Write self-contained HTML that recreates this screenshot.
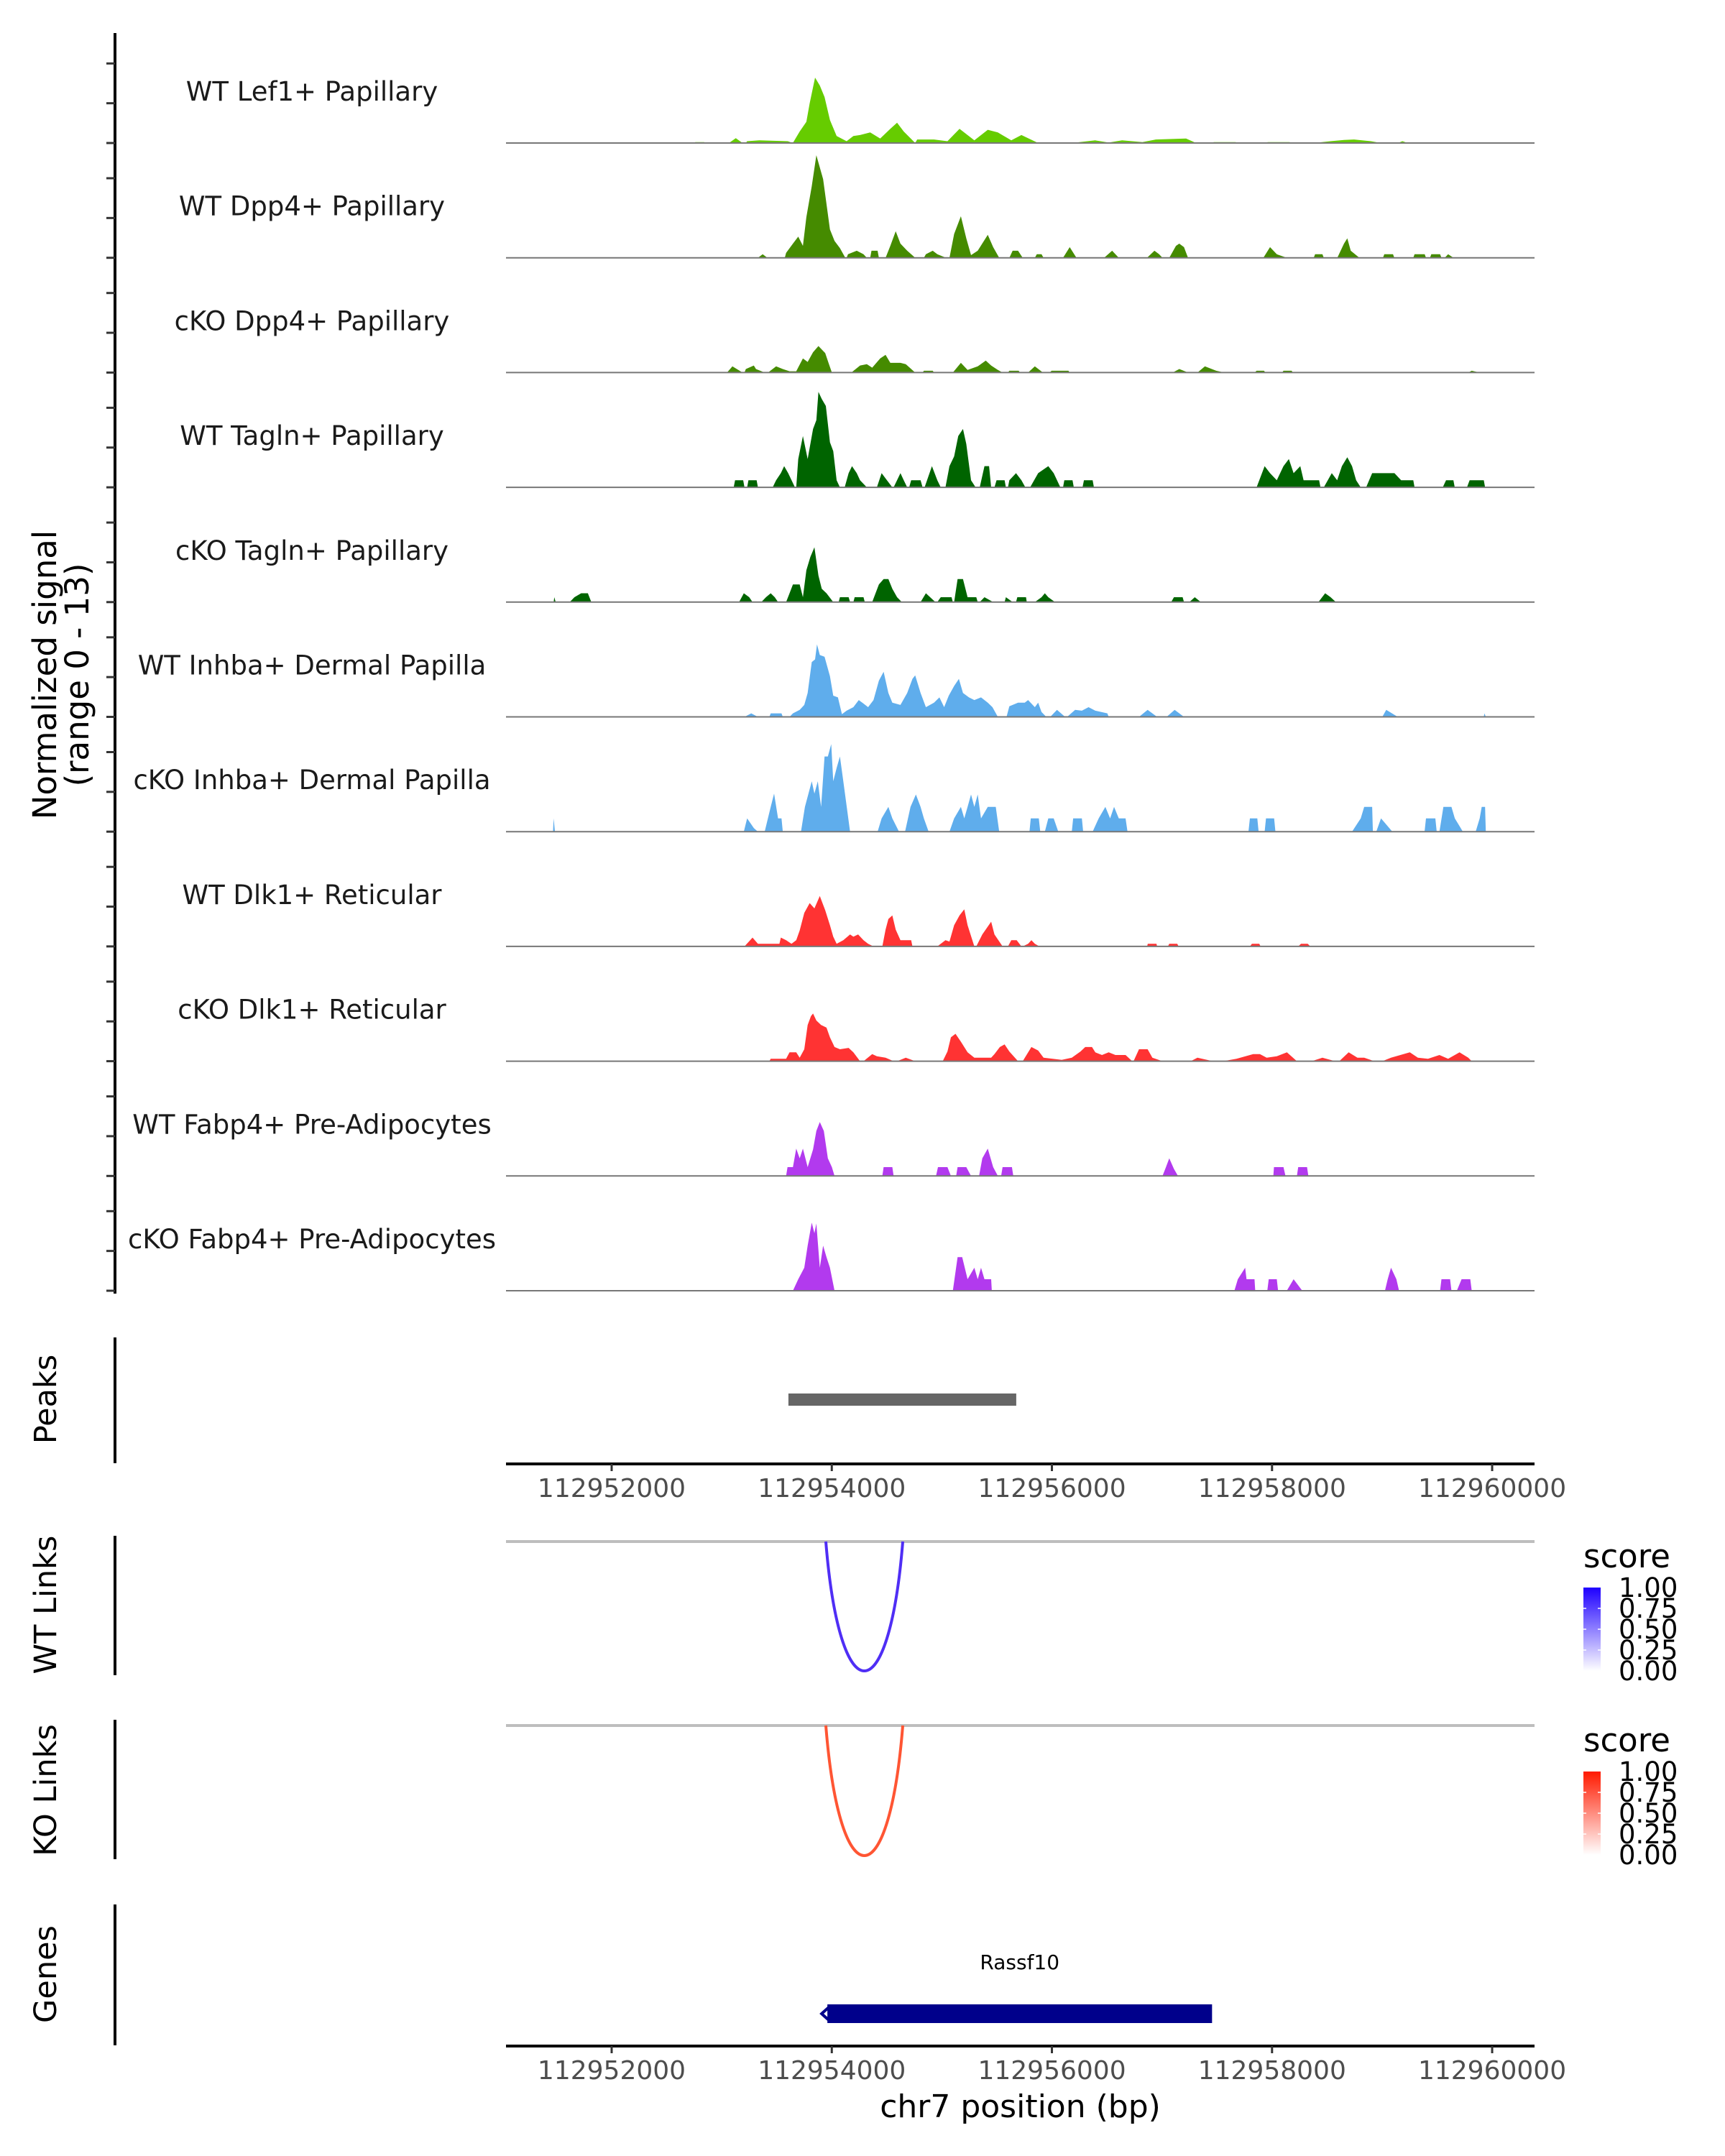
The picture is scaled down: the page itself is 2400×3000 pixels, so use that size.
<!DOCTYPE html>
<html><head><meta charset="utf-8"><style>
html,body{margin:0;padding:0;background:#fff;}
svg{display:block;font-family:"DejaVu Sans","Liberation Sans",sans-serif;}
</style></head>
<body>
<svg id="chart" width="2400" height="3000" viewBox="0 0 2400 3000" xmlns="http://www.w3.org/2000/svg">
<rect width="2400" height="3000" fill="#fff"/>
<g id="tracks"></g>
<g id="lower"></g>
<text transform="translate(78,939) rotate(-90)" text-anchor="middle" font-size="45" fill="#000">Normalized signal</text>
<text transform="translate(123,939) rotate(-90)" text-anchor="middle" font-size="45" fill="#000">(range 0 - 13)</text>
</svg>
<script>
// genomic positions are offsets from 112950000
const regionOrigin = 112950000;
const regionStart = 1040, regionEnd = 10385;
const trackLabels = ["WT Lef1+ Papillary","WT Dpp4+ Papillary","cKO Dpp4+ Papillary","WT Tagln+ Papillary","cKO Tagln+ Papillary","WT Inhba+ Dermal Papilla","cKO Inhba+ Dermal Papilla","WT Dlk1+ Reticular","cKO Dlk1+ Reticular","WT Fabp4+ Pre-Adipocytes","cKO Fabp4+ Pre-Adipocytes"];
const trackColors = ["#66cc00","#458b00","#458b00","#006400","#006400","#5fadec","#5fadec","#ff3333","#ff3333","#b23aee","#b23aee"];
const signalTicks = [0,4.5,9];
const xTickValues = [112952000,112954000,112956000,112958000,112960000];
const legendTicks = ["1.00","0.75","0.50","0.25","0.00"];
const peakRegions = [[3606,5676]];
const geneName = "Rassf10";
const geneSpan = [3960,7455];
const wtLinks = [[3946,4645,1.0]];
const koLinks = [[3946,4645,0.9]];

const lef1WT=[[2748,0],[2760,0.1],[2840,0.1],[2853,0],[3066,0],[3128,0.55],[3189,0],[3219,0],[3230,0.2],[3341,0.3],[3600,0.2],[3646,0],[3708,1.3],[3769,2.4],[3799,4.5],[3848,7.4],[3891,6.5],[3934,5.2],[3983,2.6],[4044,0.8],[4135,0.2],[4196,0.8],[4257,0.9],[4349,1.2],[4440,0.5],[4532,1.6],[4593,2.3],[4654,1.3],[4758,0],[4776,0.4],[4929,0.4],[5051,0.2],[5161,1.6],[5295,0.3],[5417,1.5],[5509,1.2],[5631,0.3],[5723,0.9],[5875,0],[6180,0],[6394,0.3],[6516,0.05],[6638,0.3],[6822,0.1],[6944,0.4],[7219,0.5],[7310,0],[7463,0],[7470,0.1],[7670,0.1],[7677,0],[7951,0],[7960,0.1],[8160,0.1],[8165,0],[8379,0],[8531,0.2],[8654,0.35],[8745,0.4],[8898,0.2],[8990,0],[9142,0],[9185,0.2],[9234,0]];
const dpp4WT=[[3329,0],[3372,0.4],[3415,0],[3573,0],[3585,0.55],[3647,1.6],[3695,2.4],[3738,1.35],[3769,4.6],[3818,8.1],[3860,11.6],[3921,8.9],[3983,3.2],[4025,1.9],[4074,1.1],[4123,0],[4135,0],[4147,0.4],[4227,0.8],[4288,0.4],[4318,0],[4349,0],[4361,0.8],[4416,0.8],[4428,0],[4489,0],[4532,1.35],[4581,3],[4624,1.6],[4685,0.8],[4758,0],[4837,0],[4855,0.4],[4917,0.8],[4959,0.4],[5039,0],[5069,0],[5112,2.7],[5173,4.7],[5222,2.2],[5265,0.3],[5326,0.8],[5417,2.6],[5466,1.2],[5521,0],[5613,0],[5643,0.8],[5692,0.8],[5735,0],[5845,0],[5863,0.4],[5906,0.4],[5924,0],[6101,0],[6162,1.2],[6223,0],[6474,0],[6547,0.8],[6608,0],[6864,0],[6932,0.8],[6974,0.4],[7005,0],[7066,0],[7127,1.35],[7157,1.6],[7200,1.2],[7237,0],[7921,0],[7982,1.2],[8043,0.4],[8135,0],[8379,0],[8391,0.4],[8458,0.4],[8470,0],[8593,0],[8654,1.6],[8684,2.2],[8715,0.8],[8794,0],[9008,0],[9020,0.4],[9099,0.4],[9111,0],[9283,0],[9295,0.4],[9387,0.4],[9399,0],[9435,0],[9447,0.4],[9527,0.4],[9539,0],[9569,0],[9600,0.4],[9649,0]];
const dpp4KO=[[3048,0],[3097,0.7],[3189,0],[3207,0],[3219,0.4],[3292,0.8],[3311,0.4],[3390,0],[3421,0],[3494,0.7],[3555,0.4],[3616,0.15],[3677,0.15],[3738,1.6],[3781,1.2],[3830,2.3],[3879,3.0],[3940,2.2],[3970,1.1],[4001,0],[4178,0],[4257,0.8],[4318,0.95],[4367,0.55],[4440,1.6],[4489,2.0],[4532,1.1],[4624,1.1],[4672,0.95],[4758,0],[4825,0],[4837,0.2],[4917,0.2],[4929,0],[5100,0],[5173,1.1],[5234,0.3],[5326,0.7],[5399,1.35],[5448,0.8],[5509,0.3],[5552,0],[5601,0],[5613,0.2],[5698,0.2],[5710,0],[5784,0],[5845,0.7],[5918,0],[5979,0],[5997,0.2],[6150,0.2],[6162,0],[7097,0],[7158,0.4],[7237,0],[7323,0],[7390,0.7],[7493,0.2],[7567,0],[7842,0],[7860,0.2],[7927,0.2],[7940,0],[8092,0],[8104,0.2],[8178,0.2],[8190,0],[9783,0],[9814,0.2],[9887,0]];
const taglnWT=[[3109,0],[3121,0.8],[3195,0.8],[3207,0],[3231,0],[3243,0.8],[3317,0.8],[3329,0],[3463,0],[3494,0.8],[3537,1.6],[3567,2.4],[3604,1.6],[3665,0],[3677,0],[3695,3.2],[3738,5.8],[3781,3.2],[3830,6.6],[3860,7.6],[3879,10.8],[3909,10],[3946,9.2],[3983,5.1],[4013,4.1],[4044,0.8],[4074,0],[4117,0],[4153,1.6],[4184,2.4],[4227,1.6],[4257,0.8],[4318,0],[4410,0],[4453,1.6],[4501,0.8],[4550,0],[4562,0],[4624,1.6],[4654,0.8],[4685,0],[4703,0],[4721,0.8],[4807,0.8],[4825,0],[4843,0],[4910,2.4],[4959,0.8],[4990,0],[5033,0],[5069,2.4],[5112,3.5],[5149,5.8],[5192,6.6],[5222,4.9],[5265,0.8],[5307,0],[5344,0],[5387,2.4],[5429,2.4],[5448,0],[5478,0],[5497,0.8],[5570,0.8],[5582,0],[5601,0],[5613,0.8],[5674,1.6],[5723,0.8],[5759,0],[5802,0],[5875,1.6],[5967,2.4],[6016,1.6],[6077,0],[6101,0],[6113,0.8],[6187,0.8],[6199,0],[6278,0],[6291,0.8],[6370,0.8],[6382,0],[7860,0],[7933,2.4],[7982,1.6],[8043,0.8],[8104,2.4],[8153,3.2],[8196,1.6],[8257,2.4],[8287,0.8],[8428,0.8],[8440,0],[8470,0],[8543,1.6],[8592,0.8],[8635,2.4],[8684,3.4],[8727,2.4],[8764,0.8],[8806,0],[8855,0],[8910,1.6],[8990,1.6],[9020,1.6],[9112,1.6],[9173,0.8],[9283,0.8],[9295,0],[9551,0],[9581,0.8],[9648,0.8],[9660,0],[9771,0],[9795,0.8],[9924,0.8],[9936,0]];
const taglnKO=[[1473,0],[1479,0.55],[1491,0],[1619,0],[1662,0.55],[1723,1.0],[1784,1.0],[1815,0],[3158,0],[3201,1.0],[3250,0.55],[3280,0],[3360,0],[3402,0.55],[3445,1.0],[3482,0.55],[3512,0],[3585,0],[3616,1.0],[3647,2.0],[3708,2.0],[3738,0.55],[3769,3.6],[3805,5.1],[3842,6.2],[3879,3.0],[3909,1.5],[3952,1.0],[4013,0],[4062,0],[4074,0.55],[4153,0.55],[4166,0],[4196,0],[4208,0.55],[4288,0.55],[4300,0],[4367,0],[4428,2.0],[4471,2.6],[4514,2.6],[4550,1.5],[4593,0.55],[4636,0],[4807,0],[4855,1.0],[4941,0],[4959,0],[4990,0.55],[5088,0.55],[5100,0],[5112,0],[5143,2.6],[5192,2.6],[5234,0.55],[5313,0.55],[5326,0],[5344,0],[5387,0.55],[5466,0],[5570,0],[5582,0.55],[5643,0],[5674,0],[5686,0.55],[5765,0.55],[5771,0],[5845,0],[5906,0.55],[5936,1.0],[5967,0.55],[6028,0],[7084,0],[7109,0.55],[7188,0.55],[7200,0],[7249,0],[7298,0.55],[7353,0],[8421,0],[8483,1.0],[8532,0.55],[8580,0]];
const inhbaWT=[[3207,0],[3268,0.4],[3329,0],[3433,0],[3445,0.4],[3543,0.4],[3555,0],[3616,0],[3647,0.4],[3708,0.8],[3750,1.35],[3781,2.7],[3818,6.2],[3848,6.5],[3866,8.2],[3891,7.0],[3934,6.8],[3983,4.6],[4013,2.4],[4056,2.2],[4092,0.3],[4135,0.7],[4196,1.1],[4245,1.9],[4288,1.5],[4330,1.1],[4379,1.9],[4428,4.1],[4471,5.1],[4514,2.7],[4550,1.6],[4624,1.35],[4685,2.7],[4733,4.3],[4758,4.7],[4807,2.7],[4855,1.1],[4929,1.6],[4978,2.2],[5021,1.1],[5063,2.4],[5112,3.5],[5155,4.3],[5192,2.7],[5246,2.2],[5295,1.9],[5356,2.2],[5417,1.6],[5460,1.1],[5509,0],[5588,0],[5613,1.2],[5692,1.6],[5753,1.6],[5784,1.9],[5845,1.1],[5875,1.6],[5906,0.55],[5949,0],[5985,0],[6046,0.8],[6120,0],[6138,0],[6211,0.8],[6272,0.7],[6333,1.1],[6394,0.7],[6504,0.4],[6516,0],[6791,0],[6870,0.8],[6956,0],[7042,0],[7115,0.8],[7200,0],[9002,0],[9038,0.8],[9142,0],[9924,0],[9930,0.4],[9942,0]];
const inhbaKO=[[1467,0],[1473,1.5],[1485,0],[3201,0],[3231,1.5],[3292,0.4],[3329,0],[3390,0],[3445,2.8],[3476,4.3],[3512,1.5],[3543,1.5],[3555,0],[3720,0],[3756,2.8],[3818,5.7],[3842,4.3],[3873,5.7],[3903,2.8],[3934,8.5],[3964,8.5],[3995,9.9],[4013,5.7],[4044,7.2],[4074,8.5],[4105,5.7],[4166,0],[4416,0],[4453,1.5],[4514,2.8],[4550,1.5],[4611,0],[4666,0],[4715,2.8],[4764,4.2],[4807,2.8],[4837,1.5],[4880,0],[5069,0],[5112,1.5],[5173,2.8],[5204,1.5],[5234,2.8],[5265,4.2],[5295,2.8],[5326,4.2],[5356,1.5],[5417,2.8],[5490,2.8],[5521,0],[5796,0],[5808,1.5],[5881,1.5],[5894,0],[5936,0],[5967,1.5],[6016,1.5],[6058,0],[6181,0],[6193,1.5],[6272,1.5],[6284,0],[6370,0],[6425,1.5],[6486,2.8],[6529,1.5],[6565,2.8],[6608,1.5],[6669,1.5],[6687,0],[7786,0],[7799,1.5],[7866,1.5],[7878,0],[7933,0],[7945,1.5],[8019,1.5],[8031,0],[8727,0],[8806,1.5],[8837,2.8],[8910,2.8],[8916,0],[8947,0],[8990,1.5],[9093,0],[9386,0],[9399,1.5],[9484,1.5],[9496,0],[9521,0],[9557,2.8],[9630,2.8],[9661,1.5],[9734,0],[9850,0],[9887,1.5],[9905,2.8],[9936,2.8],[9942,0]];
const dlk1WT=[[3207,0],[3280,1.0],[3329,0.3],[3524,0.3],[3537,1.0],[3585,0.7],[3634,0.3],[3677,0.7],[3708,1.8],[3750,3.8],[3799,4.9],[3842,4.3],[3891,5.7],[3940,4.1],[3983,2.4],[4013,1.1],[4044,0.3],[4105,0.7],[4166,1.35],[4196,1.1],[4239,1.35],[4288,0.7],[4330,0.3],[4379,0],[4459,0],[4489,1.9],[4514,3.1],[4550,3.5],[4581,1.9],[4624,0.7],[4721,0.7],[4733,0],[4959,0],[4990,0.3],[5033,0.7],[5069,0.55],[5112,2.4],[5161,3.5],[5204,4.2],[5234,2.4],[5295,0],[5313,0],[5368,1.35],[5448,2.8],[5478,1.35],[5552,0],[5601,0],[5631,0.7],[5680,0.7],[5723,0],[5735,0],[5784,0.3],[5814,0.7],[5845,0.3],[5887,0],[6865,0],[6871,0.3],[6950,0.3],[6956,0],[7054,0],[7066,0.3],[7139,0.3],[7151,0],[7799,0],[7817,0.3],[7884,0.3],[7896,0],[8238,0],[8263,0.3],[8324,0.3],[8348,0]];
const dlk1KO=[[3433,0],[3445,0.27],[3585,0.27],[3616,1.0],[3677,1.0],[3708,0.4],[3750,1.35],[3781,4.1],[3811,5.1],[3830,5.4],[3860,4.6],[3903,4.1],[3952,3.8],[3983,2.7],[4025,1.6],[4074,1.35],[4153,1.5],[4196,1.0],[4257,0],[4288,0],[4367,0.8],[4410,0.55],[4489,0.4],[4562,0],[4593,0],[4672,0.4],[4758,0],[5008,0],[5051,1.1],[5082,2.7],[5124,3.1],[5173,2.2],[5234,1.0],[5295,0.4],[5448,0.4],[5478,0.8],[5527,1.6],[5570,1.9],[5613,1.1],[5692,0],[5735,0],[5814,1.6],[5875,1.2],[5924,0.4],[6089,0.15],[6181,0.4],[6260,1.1],[6303,1.6],[6364,1.6],[6394,1.0],[6455,0.7],[6516,1.0],[6577,0.7],[6669,0.7],[6730,0],[6742,0],[6791,1.35],[6870,1.35],[6913,0.4],[7005,0],[7261,0],[7322,0.4],[7463,0],[7554,0],[7677,0.27],[7829,0.8],[7890,0.8],[7951,0.4],[8043,0.55],[8135,1.0],[8226,0],[8360,0],[8458,0.4],[8574,0],[8611,0],[8696,1.0],[8776,0.4],[8837,0.4],[8928,0],[9002,0],[9081,0.4],[9252,1.0],[9325,0.4],[9417,0.27],[9521,0.7],[9600,0.27],[9704,1.0],[9783,0.4],[9814,0]];
const fabp4WT=[[3585,0],[3598,1.0],[3647,1.0],[3677,3.1],[3708,2.0],[3738,3.1],[3781,1.0],[3830,3.0],[3860,5.1],[3891,6.1],[3928,5.1],[3964,2.0],[4001,1.0],[4025,0],[4459,0],[4471,1.0],[4550,1.0],[4562,0],[4947,0],[4965,1.0],[5051,1.0],[5082,0],[5130,0],[5143,1.0],[5222,1.0],[5265,0],[5338,0],[5368,2.0],[5417,3.1],[5466,1.0],[5509,0],[5539,0],[5552,1.0],[5637,1.0],[5649,0],[7005,0],[7036,1.0],[7066,2.0],[7109,0.8],[7145,0],[8012,0],[8018,1.0],[8104,1.0],[8122,0],[8226,0],[8238,1.0],[8318,1.0],[8330,0]];
const fabp4KO=[[3647,0],[3695,1.3],[3750,2.6],[3781,5.1],[3818,7.7],[3842,6.5],[3860,7.6],[3891,2.6],[3921,5.1],[3952,3.8],[3983,2.6],[4025,0],[5100,0],[5143,3.8],[5185,3.8],[5234,1.3],[5295,2.6],[5326,1.3],[5356,2.6],[5387,1.3],[5448,1.3],[5454,0],[7658,0],[7689,1.3],[7756,2.6],[7768,1.3],[7841,1.3],[7847,0],[7957,0],[7970,1.3],[8043,1.3],[8055,0],[8134,0],[8196,1.3],[8275,0],[9026,0],[9051,1.3],[9081,2.6],[9130,1.3],[9154,0],[9527,0],[9539,1.3],[9618,1.3],[9630,0],[9679,0],[9722,1.3],[9801,1.3],[9814,0]];
const trackSeries=[lef1WT,dpp4WT,dpp4KO,taglnWT,taglnKO,inhbaWT,inhbaKO,dlk1WT,dlk1KO,fabp4WT,fabp4KO];

const NS="http://www.w3.org/2000/svg";
const plotL=704, plotR=2135;
function xScale(off){return plotL+(off-regionStart)*(plotR-plotL)/(regionEnd-regionStart);}
function xBp(bp){return xScale(bp-regionOrigin);}
const trackTop0=199, trackStep=159.7, unitPx=12.3;
function baseY(i){return trackTop0+i*trackStep;}
function yScale(i,v){return baseY(i)-v*unitPx;}
function mk(tag,attrs,parent){const e=document.createElementNS(NS,tag);for(const k in attrs)e.setAttribute(k,attrs[k]);parent.appendChild(e);return e;}

const tracks=document.getElementById('tracks');
const lower=document.getElementById('lower');

let ax=mk('line',{x1:160,x2:160,y1:46,y2:1800,stroke:'#000','stroke-width':4},tracks);


trackSeries.forEach((series,i)=>{
  const g=mk('g',{},tracks);
  
  
  signalTicks.forEach(t=>{
    const tk=mk('line',{x1:148,x2:160,y1:yScale(i,t),y2:yScale(i,t),stroke:'#333','stroke-width':3},g);
    
    
  });
  let d='';
  series.forEach((p,j)=>{
    const x=xScale(p[0]).toFixed(1), y=yScale(i,p[1]).toFixed(1);
    if(j===0) d+='M'+x+','+baseY(i).toFixed(1)+' ';
    d+='L'+x+','+y+' ';
  });
  d+='L'+xScale(series[series.length-1][0]).toFixed(1)+','+baseY(i).toFixed(1)+'Z';
  const area=mk('path',{d:d,fill:trackColors[i],stroke:'none'},g);
  
  
  const bl=mk('line',{x1:plotL,x2:plotR,y1:baseY(i),y2:baseY(i),stroke:'#777','stroke-width':2},g);
  
  
  const lab=mk('text',{x:434,y:baseY(i)-59,'text-anchor':'middle','font-size':37,fill:'#1a1a1a'},g);
  lab.textContent=trackLabels[i];
  
  
});

function panelAxis(y1,y2,title,ty,name){
  const l=mk('line',{x1:160,x2:160,y1:y1,y2:y2,stroke:'#000','stroke-width':4},lower);
  
  
  const t=mk('text',{transform:'translate(78,'+ty+') rotate(-90)','text-anchor':'middle','font-size':43,fill:'#000'},lower);
  t.textContent=title;
  
  
}
function xAxis(y,name){
  const g=mk('g',{},lower);
  
  
  mk('line',{x1:plotL,x2:plotR,y1:y,y2:y,stroke:'#000','stroke-width':4},g);
  xTickValues.forEach(v=>{
    const x=xBp(v);
    const tk=mk('line',{x1:x,x2:x,y1:y,y2:y+10,stroke:'#333','stroke-width':3},g);
    
    
    const t=mk('text',{x:x,y:y+46,'text-anchor':'middle','font-size':36,fill:'#4d4d4d'},g);
    t.textContent=String(v);
    
    
  });
}

panelAxis(1861,2036,'Peaks',1947,'peaks');
peakRegions.forEach(p=>{
  const r=mk('rect',{x:xScale(p[0]),y:1939,width:xScale(p[1])-xScale(p[0]),height:17,fill:'#666'},lower);
  
  
});
xAxis(2037,'peaks-x-axis');

function linkPanel(links,top,bottom,color,name,title,ty,legendY,gradTop){
  panelAxis(top-8,top+186,title,ty,name);
  const gl=mk('line',{x1:plotL,x2:plotR,y1:top,y2:top,stroke:'#bebebe','stroke-width':4},lower);
  
  
  links.forEach(l=>{
    const x1=xScale(l[0]), x2=xScale(l[1]), w=x2-x1;
    const c=(bottom-0.25*top)/0.75;
    const p=mk('path',{d:'M'+x1+','+top+' C'+(x1+w*0.18)+','+c+' '+(x2-w*0.18)+','+c+' '+x2+','+top,fill:'none',stroke:color,'stroke-width':4},lower);
    
    
  });
  const lg=mk('g',{},lower);
  
  
  const st=mk('text',{x:2203,y:legendY,'font-size':45,fill:'#000'},lg);
  st.textContent='score';
  const gid='grad-'+name;
  const defs=mk('defs',{},lg);
  const grad=mk('linearGradient',{id:gid,x1:0,y1:1,x2:0,y2:0},defs);
  mk('stop',{offset:'0','stop-color':'#ffffff'},grad);
  mk('stop',{offset:'1','stop-color':gradTop},grad);
  const barTop=legendY+28, barH=116;
  mk('rect',{x:2203,y:barTop,width:24,height:barH,fill:'url(#'+gid+')'},lg);
  legendTicks.forEach((t,k)=>{
    const yy=barTop+k*barH/(legendTicks.length-1);
    if(k>0&&k<legendTicks.length-1){mk('line',{x1:2203,x2:2207,y1:yy,y2:yy,stroke:'#fff','stroke-width':1.5},lg);mk('line',{x1:2223,x2:2227,y1:yy,y2:yy,stroke:'#fff','stroke-width':1.5},lg);}
    const tt=mk('text',{x:2252,y:yy+13,'font-size':37,fill:'#000'},lg);
    tt.textContent=t;
  });
}
linkPanel(wtLinks,2145,2325,'#4f2ef5','wt-links','WT Links',2233,2181,'#1e00ff');
linkPanel(koLinks,2401,2582,'#ff5533','ko-links','KO Links',2491,2437,'#ff1a00');

panelAxis(2650,2846,'Genes',2747,'genes');
const gx1=xScale(geneSpan[0]), gx2=xScale(geneSpan[1]);
const gb=mk('rect',{x:gx1,y:2789,width:gx2-gx1,height:26,fill:'#00008b'},lower);


const ga=mk('polyline',{points:(gx1+2)+',2793 '+(gx1-8)+',2802 '+(gx1+2)+',2811',fill:'none',stroke:'#00008b','stroke-width':4},lower);


const gl=mk('text',{x:(gx1+gx2)/2,y:2740,'text-anchor':'middle','font-size':28,fill:'#000'},lower);
gl.textContent=geneName;


xAxis(2847,'genes-x-axis');
const xt=mk('text',{x:(plotL+plotR)/2,y:2946,'text-anchor':'middle','font-size':44,fill:'#000'},lower);
xt.textContent='chr7 position (bp)';


</script>
</body></html>
